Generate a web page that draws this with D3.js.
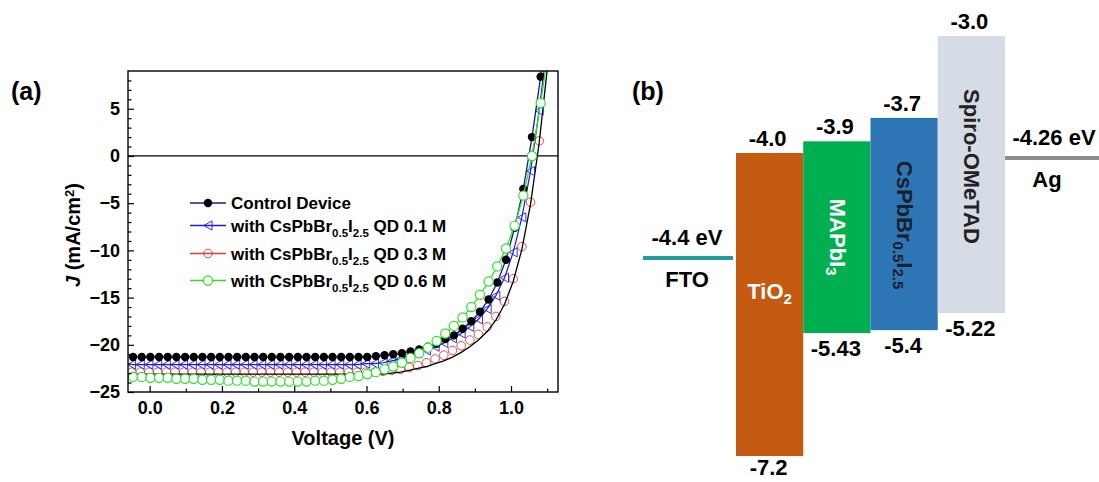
<!DOCTYPE html>
<html>
<head>
<meta charset="utf-8">
<script src="https://cdn.jsdelivr.net/npm/d3@7"></script>
<style>
  body { margin: 0; background: #fff; }
  svg { display: block; }
  text { font-family: "Liberation Sans", Arial, sans-serif; font-weight: bold; white-space: pre; }
</style>
</head>
<body>
<svg id="chart" width="1099" height="482"></svg>
<script>
// ---------- (a) J-V curves ----------
// bias sweep used for the control and 0.6 M devices (V)
const voltageA = [-0.046, -0.022, 0.002, 0.026, 0.050, 0.074, 0.098, 0.122, 0.146, 0.170,
  0.194, 0.218, 0.242, 0.266, 0.290, 0.314, 0.338, 0.362, 0.386, 0.410,
  0.434, 0.458, 0.482, 0.506, 0.530, 0.554, 0.578, 0.602, 0.626, 0.650,
  0.674, 0.698, 0.722, 0.746, 0.770, 0.794, 0.818, 0.842, 0.866, 0.890,
  0.914, 0.938, 0.962, 0.986, 1.010, 1.034, 1.058, 1.082, 1.106];
// current density, control device (mA/cm2)
const jControl = [-21.3, -21.3, -21.3, -21.3, -21.3, -21.3, -21.3, -21.3, -21.3, -21.3,
  -21.3, -21.3, -21.3, -21.3, -21.3, -21.3, -21.3, -21.3, -21.3, -21.3,
  -21.3, -21.3, -21.3, -21.3, -21.3, -21.3, -21.3, -21.3, -21.2, -21.1,
  -21.0, -20.9, -20.7, -20.5, -20.2, -19.9, -19.4, -19.0, -18.3, -17.5,
  -16.5, -15.2, -13.4, -11.0, -7.6, -3.5, 2.0, 8.4, 16.0];
// current density, 0.6 M QD device
const jQD06 = [-23.4, -23.4, -23.5, -23.5, -23.5, -23.6, -23.6, -23.6, -23.7, -23.7,
  -23.7, -23.8, -23.8, -23.8, -23.9, -23.9, -23.9, -23.9, -23.9, -23.9,
  -23.9, -23.8, -23.8, -23.7, -23.6, -23.4, -23.3, -23.1, -22.9, -22.6,
  -22.3, -21.9, -21.4, -20.9, -20.3, -19.6, -18.8, -18.0, -17.1, -16.0,
  -14.7, -13.3, -11.7, -9.8, -7.4, -4.2, 0.0, 5.6, 12.0];

// bias sweep used for the 0.1 M and 0.3 M devices (V)
const voltageB = [-0.050, -0.026, -0.002, 0.022, 0.046, 0.070, 0.094, 0.118, 0.142, 0.166,
  0.190, 0.214, 0.238, 0.262, 0.286, 0.310, 0.334, 0.358, 0.382, 0.406,
  0.430, 0.454, 0.478, 0.502, 0.526, 0.550, 0.574, 0.598, 0.622, 0.646,
  0.670, 0.694, 0.718, 0.742, 0.766, 0.790, 0.814, 0.838, 0.862, 0.886,
  0.910, 0.934, 0.958, 0.982, 1.006, 1.030, 1.054, 1.078, 1.102];
const jQD01 = [-22.1, -22.1, -22.1, -22.1, -22.1, -22.1, -22.1, -22.1, -22.1, -22.1,
  -22.1, -22.1, -22.1, -22.1, -22.1, -22.1, -22.1, -22.1, -22.1, -22.1,
  -22.1, -22.1, -22.1, -22.1, -22.1, -22.1, -22.1, -22.0, -22.0, -21.9,
  -21.7, -21.5, -21.2, -20.9, -20.6, -20.2, -19.8, -19.3, -18.8, -18.1,
  -17.3, -16.2, -14.8, -12.9, -10.2, -6.5, -1.6, 4.8, 12.5];
const jQD03 = [-22.9, -22.9, -22.9, -22.9, -22.9, -22.9, -22.9, -22.9, -22.9, -22.9,
  -22.9, -22.9, -22.9, -22.9, -22.9, -22.9, -22.9, -22.9, -22.9, -22.9,
  -22.9, -22.9, -22.9, -22.9, -22.9, -22.9, -22.9, -22.9, -22.9, -22.8,
  -22.7, -22.6, -22.4, -22.2, -21.9, -21.5, -21.1, -20.6, -20.1, -19.5,
  -18.9, -18.1, -17.0, -15.4, -13.0, -9.6, -4.9, 1.6, 10.0];
// solid reference curve drawn through the 0.3 M data
const jQD03Curve = [-23.1, -23.1, -23.1, -23.1, -23.1, -23.1, -23.1, -23.1, -23.1, -23.1,
  -23.1, -23.1, -23.1, -23.1, -23.1, -23.1, -23.1, -23.1, -23.1, -23.1,
  -23.1, -23.1, -23.1, -23.1, -23.1, -23.1, -23.1, -23.1, -23.1, -23.1,
  -23.0, -22.9, -22.7, -22.5, -22.3, -22.0, -21.7, -21.3, -20.8, -20.2,
  -19.5, -18.6, -17.4, -15.7, -13.3, -9.9, -5.1, 1.4, 9.8];

const xTicks = [0.0, 0.2, 0.4, 0.6, 0.8, 1.0];
const xMinorTicks = [0.1, 0.3, 0.5, 0.7, 0.9, 1.1];
const yTicks = [-25, -20, -15, -10, -5, 0, 5];

// ---------- (b) energy levels (eV) ----------
const layers = ["TiO2", "MAPbI3", "CsPbBr0.5I2.5", "Spiro-OMeTAD"];
const lumo = [-4.0, -3.9, -3.7, -3.0];
const homo = [-7.2, -5.43, -5.4, -5.22];
const layerColors = ["#c55a11", "#00b050", "#2e75b6", "#d6dce5"];
const electrodes = ["FTO", "Ag"];
const workFunction = [-4.4, -4.26];
const electrodeColors = ["#1f9f9c", "#8c8c8c"];

const svg = d3.select("#chart");

// ================= panel (a) =================
const x = d3.scaleLinear().domain([-0.06, 1.13]).range([128, 558]);
const y = d3.scaleLinear().domain([-25, 9]).range([392, 71]);

svg.append("clipPath").attr("id", "plotArea")
  .append("rect").attr("x", 128).attr("y", 71).attr("width", 430).attr("height", 321);

// zero-current line
svg.append("line")
  .attr("x1", x.range()[0]).attr("x2", x.range()[1])
  .attr("y1", y(0)).attr("y2", y(0))
  .attr("stroke", "#000").attr("stroke-width", 1.2);

const plot = svg.append("g").attr("clip-path", "url(#plotArea)");
const line = d3.line().x(d => x(d[0])).y(d => y(d[1]));

const ptsControl = d3.zip(voltageA, jControl);
const pts06 = d3.zip(voltageA, jQD06);
const pts01 = d3.zip(voltageB, jQD01);
const pts03 = d3.zip(voltageB, jQD03);
const pts03Curve = d3.zip(voltageB, jQD03Curve);

const triangle = "M-4.2,0L4,-4.6L4,4.6Z";

// 0.3 M: open red circles
plot.append("g").selectAll("circle").data(pts03).join("circle")
  .attr("cx", d => x(d[0])).attr("cy", d => y(d[1])).attr("r", 4.3)
  .attr("fill", "none").attr("stroke", "#e03a3a").attr("stroke-width", 0.9);
plot.append("path").datum(pts03Curve).attr("d", line)
  .attr("fill", "none").attr("stroke", "#000").attr("stroke-width", 1.3);

// 0.1 M: blue line with open left-pointing triangles
plot.append("path").datum(pts01).attr("d", line)
  .attr("fill", "none").attr("stroke", "#1a1ae6").attr("stroke-width", 1.2);
plot.append("g").selectAll("path").data(pts01).join("path")
  .attr("transform", d => `translate(${x(d[0])},${y(d[1])})`)
  .attr("d", triangle)
  .attr("fill", "none").attr("stroke", "#1a1ae6").attr("stroke-width", 0.9);

// control: navy line with filled black dots
plot.append("path").datum(ptsControl).attr("d", line)
  .attr("fill", "none").attr("stroke", "#1b1b7e").attr("stroke-width", 1.3);
plot.append("g").selectAll("circle").data(ptsControl).join("circle")
  .attr("cx", d => x(d[0])).attr("cy", d => y(d[1])).attr("r", 4.2)
  .attr("fill", "#000");

// 0.6 M: green line with white-filled green circles
plot.append("path").datum(pts06).attr("d", line)
  .attr("fill", "none").attr("stroke", "#2ee02e").attr("stroke-width", 1.3);
plot.append("g").selectAll("circle").data(pts06).join("circle")
  .attr("cx", d => x(d[0])).attr("cy", d => y(d[1])).attr("r", 4.6)
  .attr("fill", "#fff").attr("stroke", "#2ee02e").attr("stroke-width", 1.2);

// axes (ticks point inward)
function styleAxis(g) {
  g.select(".domain").remove();
  g.selectAll("text").attr("font-size", 18).attr("font-weight", "bold")
    .attr("font-family", "'Liberation Sans', Arial, sans-serif").attr("fill", "#000");
  g.selectAll("line").attr("stroke", "#000").attr("stroke-width", 1.2);
  g.attr("font-size", null).attr("font-family", null);
}
svg.append("g").attr("transform", "translate(0,392)")
  .call(d3.axisBottom(x).tickValues(xTicks).tickFormat(d3.format(".1f"))
    .tickSizeInner(-6).tickSizeOuter(0).tickPadding(9))
  .call(styleAxis);
svg.append("g").attr("transform", "translate(0,392)")
  .call(d3.axisBottom(x).tickValues(xMinorTicks).tickFormat("")
    .tickSizeInner(-3.5).tickSizeOuter(0))
  .call(styleAxis);
svg.append("g").attr("transform", "translate(128,0)")
  .call(d3.axisLeft(y).tickValues(yTicks)
    .tickSizeInner(-6).tickSizeOuter(0).tickPadding(8))
  .call(styleAxis);
svg.append("g").attr("transform", "translate(128,0)")
  .call(d3.axisLeft(y).tickValues(d3.range(-24, 9).filter(v => v % 5 !== 0)).tickFormat("")
    .tickSizeInner(-3.5).tickSizeOuter(0))
  .call(styleAxis);

// frame
svg.append("rect").attr("x", 128).attr("y", 71).attr("width", 430).attr("height", 321)
  .attr("fill", "none").attr("stroke", "#000").attr("stroke-width", 1.4);

// rich text helper: parts = [[text, "sub"|"sup"|"i"|undefined], ...]
function rich(sel, parts, size, subSize, shift) {
  let offset = 0;
  parts.forEach(([t, kind]) => {
    const ts = sel.append("tspan").text(t);
    let target = 0;
    if (kind === "sub") target = shift;
    if (kind === "sup") target = -shift * 1.3;
    ts.attr("dy", target - offset);
    offset = target;
    ts.attr("font-size", (kind === "sub" || kind === "sup") ? subSize : size);
    if (kind === "i") ts.attr("font-style", "italic");
  });
  return sel;
}

// axis titles
svg.append("text").attr("x", 343).attr("y", 445).attr("text-anchor", "middle")
  .attr("font-size", 20).text("Voltage (V)");
rich(svg.append("text").attr("transform", "translate(80,235) rotate(-90)")
  .attr("text-anchor", "middle").attr("font-size", 20),
  [["J", "i"], [" (mA/cm"], ["2", "sup"], [")"]], 20, 13, 5);

// legend
const legendRows = [
  { parts: [["Control Device"]], color: "#1b1b7e", marker: "dot", cy: 203 },
  { parts: [["with CsPbBr"], ["0.5", "sub"], ["I"], ["2.5", "sub"], [" QD 0.1 M"]], color: "#1a1ae6", marker: "tri", cy: 225.5 },
  { parts: [["with CsPbBr"], ["0.5", "sub"], ["I"], ["2.5", "sub"], [" QD 0.3 M"]], color: "#e03a3a", marker: "ring", cy: 253.5 },
  { parts: [["with CsPbBr"], ["0.5", "sub"], ["I"], ["2.5", "sub"], [" QD 0.6 M"]], color: "#2ee02e", marker: "wring", cy: 280.5 }
];
const legend = svg.append("g");
legendRows.forEach(r => {
  const g = legend.append("g").attr("transform", `translate(0,${r.cy})`);
  g.append("line").attr("x1", 190).attr("x2", 226).attr("y1", 0).attr("y2", 0)
    .attr("stroke", r.color).attr("stroke-width", 1.3);
  if (r.marker === "dot") g.append("circle").attr("cx", 208).attr("r", 4.2).attr("fill", "#000");
  if (r.marker === "tri") g.append("path").attr("transform", "translate(208,0)").attr("d", triangle)
    .attr("fill", "none").attr("stroke", r.color).attr("stroke-width", 0.9);
  if (r.marker === "ring") g.append("circle").attr("cx", 208).attr("r", 4.3)
    .attr("fill", "none").attr("stroke", r.color).attr("stroke-width", 0.9);
  if (r.marker === "wring") g.append("circle").attr("cx", 208).attr("r", 4.6)
    .attr("fill", "#fff").attr("stroke", r.color).attr("stroke-width", 1.2);
  rich(g.append("text").attr("x", 231).attr("y", 6).attr("font-size", 17),
    r.parts, 17, 11.5, 5);
});

// panel labels
svg.append("text").attr("x", 11).attr("y", 100).attr("font-size", 25).text("(a)");
svg.append("text").attr("x", 632).attr("y", 100).attr("font-size", 25).text("(b)");

// ================= panel (b) =================
// schematic energy axis (not to scale; broken between the electrode levels)
const e = d3.scaleLinear()
  .domain([-3.0, -4.0, -4.26, -4.4, -5.22, -5.43, -7.2])
  .range([36, 153, 158, 258, 313, 333, 456]);
const band = d3.scaleBand().domain(layers).range([736, 1005]).padding(0);

const fmt = v => (Math.round(v * 100) % 10 === 0 ? v.toFixed(1) : v.toFixed(2));
const diagram = svg.append("g");

layers.forEach((name, i) => {
  const x0 = band(name), w = band.bandwidth(), cx = x0 + w / 2;
  diagram.append("rect").attr("x", x0).attr("y", e(lumo[i]))
    .attr("width", w).attr("height", e(homo[i]) - e(lumo[i]))
    .attr("fill", layerColors[i]);
  diagram.append("text").attr("x", cx - 2).attr("y", e(lumo[i]) - 7)
    .attr("text-anchor", "middle").attr("font-size", 22).text(fmt(lumo[i]));
  // keep the lowest label inside the canvas
  diagram.append("text").attr("x", cx - 1).attr("y", Math.min(e(homo[i]) + 23, 475))
    .attr("text-anchor", "middle").attr("font-size", 22).text(fmt(homo[i]));
});

// layer names inside the bars
const tio = band("TiO2") + band.bandwidth() / 2;
rich(diagram.append("text").attr("x", tio).attr("y", e(lumo[0]) + 146)
  .attr("text-anchor", "middle").attr("font-size", 22).attr("font-weight", "normal").attr("fill", "#fff"),
  [["TiO"], ["2", "sub"]], 22, 15, 5);

function vertical(name, i, parts, color, dyc) {
  const cx = band(name) + band.bandwidth() / 2 + 1;
  const cy = (e(lumo[i]) + e(homo[i])) / 2 + dyc;
  rich(diagram.append("text").attr("transform", `translate(${cx},${cy}) rotate(90)`)
    .attr("text-anchor", "middle").attr("dominant-baseline", "central")
    .attr("font-size", 22).attr("fill", color), parts, 22, 15, 6);
}
vertical("MAPbI3", 1, [["MAPbI"], ["3", "sub"]], "#fff", 0);
vertical("CsPbBr0.5I2.5", 2, [["CsPbBr"], ["0.5", "sub"], ["I"], ["2.5", "sub"]], "#1a1f2e", 1);
vertical("Spiro-OMeTAD", 3, [["Spiro-OMeTAD"]], "#222", -8);

// electrode work functions
const electrodeX = [[643, 733], [1005, 1099]];
const electrodeLabelX = [687, 1052];
electrodes.forEach((name, i) => {
  const yy = e(workFunction[i]);
  diagram.append("line").attr("x1", electrodeX[i][0]).attr("x2", electrodeX[i][1])
    .attr("y1", yy).attr("y2", yy)
    .attr("stroke", electrodeColors[i]).attr("stroke-width", 4);
  diagram.append("text").attr("x", electrodeLabelX[i] + (i === 1 ? 2 : 0)).attr("y", yy - 13)
    .attr("text-anchor", "middle").attr("font-size", 22).text(`${fmt(workFunction[i])} eV`);
  diagram.append("text").attr("x", electrodeLabelX[i] - (i === 1 ? 5 : 0)).attr("y", yy + 29)
    .attr("text-anchor", "middle").attr("font-size", 22).text(name);
});
</script>
</body>
</html>
